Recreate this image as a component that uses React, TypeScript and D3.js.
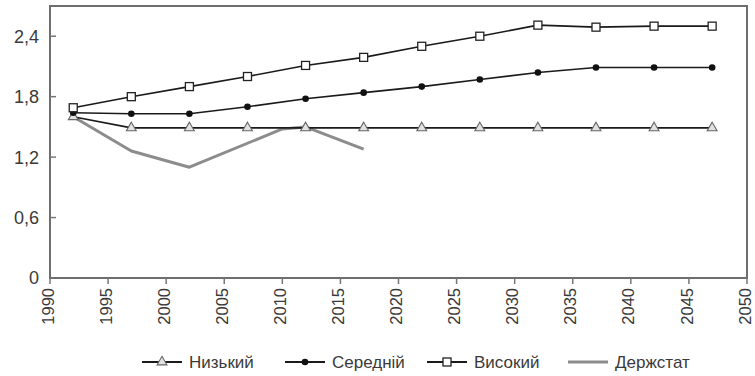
import React from 'react';
import * as d3 from 'd3';

// forecast years (every 5 years)
const years = [1992, 1997, 2002, 2007, 2012, 2017, 2022, 2027, 2032, 2037, 2042, 2047];
const low = [1.6, 1.49, 1.49, 1.49, 1.49, 1.49, 1.49, 1.49, 1.49, 1.49, 1.49, 1.49];
const medium = [1.64, 1.63, 1.63, 1.7, 1.78, 1.84, 1.9, 1.97, 2.04, 2.09, 2.09, 2.09];
const high = [1.69, 1.8, 1.9, 2.0, 2.11, 2.19, 2.3, 2.4, 2.51, 2.49, 2.5, 2.5];

// official statistics
const statYears = [1992, 1997, 2002, 2010, 2012, 2017];
const statValues = [1.6, 1.26, 1.1, 1.48, 1.5, 1.28];

const xTicks = d3.range(1990, 2051, 5);
const yTicks = [0, 0.6, 1.2, 1.8, 2.4];

const legendLabels = ['Низький', 'Середній', 'Високий', 'Держстат'];

const W = 755;
const H = 376;
const margin = { top: 6, right: 8, bottom: 98, left: 50 };
const FONT = '"Liberation Sans", Arial, sans-serif';

type Marker = 'triangle' | 'circle' | 'square' | 'none';

function MarkerShape({ kind, x, y }: { kind: Marker; x: number; y: number }) {
  if (kind === 'circle') return <circle cx={x} cy={y} r={3.3} fill="#111" />;
  if (kind === 'square')
    return <rect x={x - 4} y={y - 4} width={8} height={8} fill="#fff" stroke="#222" strokeWidth={1.3} />;
  if (kind === 'triangle') {
    const p = d3.symbol(d3.symbolTriangle, 42)();
    return <path d={p || ''} transform={`translate(${x},${y})`} fill="#e2e2e2" stroke="#666" strokeWidth={1.1} />;
  }
  return null;
}

export default function App() {
  const x = d3.scaleLinear().domain([1990, 2050]).range([margin.left, W - margin.right]);
  const y = d3.scaleLinear().domain([0, 2.7]).range([H - margin.bottom, margin.top]);
  const line = d3.line<[number, number]>().x(d => x(d[0])).y(d => y(d[1]));

  const series: { vals: number[]; marker: Marker }[] = [
    { vals: low, marker: 'triangle' },
    { vals: medium, marker: 'circle' },
    { vals: high, marker: 'square' },
  ];

  const bottom = H - margin.bottom;
  const fmt = (v: number) => (v === 0 ? '0' : d3.format('.1f')(v).replace('.', ','));

  // legend layout
  const legendX = [142, 285, 427, 568];
  const legendY = 362;
  const legendMarkers: Marker[] = ['triangle', 'circle', 'square', 'none'];

  return (
    <svg width={W} height={H} style={{ position: 'absolute', left: 0, top: 0, background: '#fff' }}>
      {/* Держстат */}
      <path
        d={line(statYears.map((yr, i) => [yr, statValues[i]])) || ''}
        fill="none"
        stroke="#8c8c8c"
        strokeWidth={3}
        strokeLinejoin="round"
      />
      {series.map((s, si) => (
        <g key={si}>
          <path
            d={line(years.map((yr, i) => [yr, s.vals[i]])) || ''}
            fill="none"
            stroke="#1a1a1a"
            strokeWidth={1.6}
          />
          {years.map((yr, i) => (
            <MarkerShape key={i} kind={s.marker} x={x(yr)} y={y(s.vals[i])} />
          ))}
        </g>
      ))}

      {/* frame */}
      <rect
        x={margin.left}
        y={margin.top}
        width={W - margin.left - margin.right}
        height={bottom - margin.top}
        fill="none"
        stroke="#6e6e6e"
        strokeWidth={2}
      />

      {/* y axis */}
      {yTicks.map(t => (
        <g key={t}>
          {t > 0 && <line x1={margin.left} x2={margin.left + 6} y1={y(t)} y2={y(t)} stroke="#777" strokeWidth={1.5} />}
          <text
            x={margin.left - 11}
            y={y(t)}
            dy="0.36em"
            textAnchor="end"
            fontFamily={FONT}
            fontSize={18}
            fill="#3a3a3a"
          >
            {fmt(t)}
          </text>
        </g>
      ))}

      {/* x axis */}
      {xTicks.map(t => (
        <g key={t}>
          <line x1={x(t)} x2={x(t)} y1={bottom} y2={bottom + 6} stroke="#777" strokeWidth={1.5} />
          <text
            transform={`translate(${x(t) - 2},${bottom + 10}) rotate(-90)`}
            dy="0.34em"
            textAnchor="end"
            fontFamily={FONT}
            fontSize={16.5}
            fill="#3a3a3a"
          >
            {t}
          </text>
        </g>
      ))}

      {/* legend */}
      {legendLabels.map((lab, i) => {
        const lx = legendX[i];
        const isStat = legendMarkers[i] === 'none';
        return (
          <g key={lab}>
            <line
              x1={lx}
              x2={lx + 40}
              y1={legendY}
              y2={legendY}
              stroke={isStat ? '#8c8c8c' : '#1a1a1a'}
              strokeWidth={isStat ? 3 : 2}
            />
            <MarkerShape kind={legendMarkers[i]} x={lx + 20} y={legendY} />
            <text x={lx + 47} y={legendY} dy="0.36em" fontFamily={FONT} fontSize={17} fill="#3a3a3a">
              {lab}
            </text>
          </g>
        );
      })}
    </svg>
  );
}
